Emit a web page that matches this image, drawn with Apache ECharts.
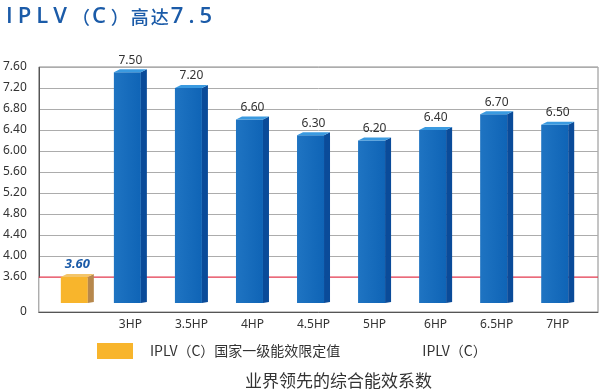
<!DOCTYPE html>
<html><head><meta charset="utf-8">
<script src="https://cdn.jsdelivr.net/npm/echarts@6/dist/echarts.min.js"></script>
<style>html,body{margin:0;padding:0;background:#fff}#c{width:600px;height:391px}</style>
</head><body><div id="c"></div>
<script>
const categories = ['', '3HP', '3.5HP', '4HP', '4.5HP', '5HP', '6HP', '6.5HP', '7HP'];
const standardValue = 3.6;
const iplvValues = [7.5, 7.2, 6.6, 6.3, 6.2, 6.4, 6.7, 6.5];
const standardName = 'IPLV（C）国家一级能效限定值';
const iplvName = 'IPLV（C）';
const titleText = 'IPLV（C）高达7.5';
const footText = '业界领先的综合能效系数';

const chart = echarts.init(document.getElementById('c'));
const font = 'Noto Sans, Noto Sans CJK SC, sans-serif';

// title split into spaced glyph tokens (letter-spaced heading)
const titleRich = titleText.split('').map(ch => (/[\u3000-\uffff]/.test(ch) ? '{c|' : '{l|') + ch + '}').join('');

function makeRender(front, side, topc, labelStyle, shiftX, withLine) {
  return function (params, api) {
    const x = api.value(0), v = api.value(1);
    const p = api.coord([x, v]);
    const b = api.coord([x, 0]);
    const fw = 27, sw = 6, d = 3;
    const left = p[0] - (fw + sw) / 2 + shiftX;
    const yT = p[1], yB = b[1] - 9;
    const children = [];
    if (withLine) {
      const cs = params.coordSys;
      children.push({ type: 'rect', shape: { x: cs.x, y: Math.round(yT) - 0.5, width: cs.width, height: 1.2 }, style: { fill: '#e3394e' } });
    }
    children.push(
      { type: 'rect', shape: { x: left, y: yT, width: fw, height: yB - yT }, style: { fill: front } },
      { type: 'polygon', shape: { points: [[left + fw, yT], [left + fw + sw, yT - d], [left + fw + sw, yB - 1], [left + fw, yB]] }, style: { fill: side } },
      { type: 'polygon', shape: { points: [[left, yT], [left + fw, yT], [left + fw + sw, yT - d], [left + sw, yT - d]] }, style: { fill: topc } },
      { type: 'text', style: Object.assign({ text: v.toFixed(2), x: left + (fw + sw) / 2, y: yT - 6, align: 'center', verticalAlign: 'bottom' }, labelStyle) }
    );
    return { type: 'group', children };
  };
}

const blueFront = new echarts.graphic.LinearGradient(0, 0, 1, 0, [
  { offset: 0, color: '#1f74c2' }, { offset: 1, color: '#0f64b6' }]);

chart.setOption({
  animation: false,
  title: [
    { text: titleRich, left: 1, top: 1,
      textStyle: { rich: {
        l: { fontFamily: 'Open Sans', fontSize: 22, fontWeight: 600, color: '#1b5ba8', padding: [0, 5, 0, 0] },
        c: { fontFamily: 'Noto Sans CJK SC', fontSize: 18, fontWeight: 500, color: '#1b5ba8', padding: [0, 2, 0, 0] }
      } } },
    { text: footText, left: 240, top: 367, textStyle: { fontFamily: 'Noto Sans CJK SC', fontSize: 17, fontWeight: 'normal', color: '#333' } }
  ],
  legend: {
    left: 97, top: 343, padding: 0, itemWidth: 36, itemHeight: 16, itemGap: 29,
    textStyle: { fontFamily: 'Noto Sans CJK SC', fontSize: 14, color: '#333', padding: [0, 0, 0, 12] },
    data: [
      { name: standardName, icon: 'rect', itemStyle: { color: '#f8b52c' } },
      { name: iplvName, icon: 'rect', itemStyle: { color: 'rgba(0,0,0,0)' } }
    ]
  },
  grid: { left: 35, right: 2, top: 67, bottom: 79, show: true, borderColor: '#8a8a8a', borderWidth: 1 },
  xAxis: {
    type: 'value', min: -0.5, max: 8.66,
    splitLine: { show: false },
    axisLine: { onZero: false, lineStyle: { color: '#555' } },
    axisTick: { show: false },
    axisLabel: {
      customValues: [1, 2, 3, 4, 5, 6, 7, 8],
      formatter: v => categories[Math.round(v)] || '',
      fontFamily: font, fontSize: 12, color: '#333', margin: 7
    }
  },
  yAxis: {
    type: 'value', min: 0, max: 7.6, interval: 0.4,
    breaks: [{ start: 0, end: 3.6, gap: '14.3%' }],
    breakArea: { show: false },
    axisLine: { show: true, onZero: false, lineStyle: { color: '#555' } },
    axisTick: { show: false },
    splitLine: { lineStyle: { color: '#acacac' } },
    axisLabel: { fontFamily: font, fontSize: 12, color: '#333', margin: 12, formatter: v => v === 0 ? '0' : v.toFixed(2) }
  },
  series: [
    {
      name: standardName, type: 'custom', itemStyle: { color: '#f8b52c' },
      renderItem: makeRender('#f8b52c', '#b7884c', '#f3c56a', { fill: '#1b5ba8', fontSize: 13, fontWeight: 'bold', fontStyle: 'italic', fontFamily: font }, 8, true),
      data: [[0, standardValue]],
      z: 2
    },
    {
      name: iplvName, type: 'custom', itemStyle: { color: '#1569bb' },
      renderItem: makeRender(blueFront, '#0a4b99', '#3a9ae0', { fill: '#333', fontSize: 12, fontFamily: font }, 0, false),
      data: iplvValues.map((v, i) => [i + 1, v]),
      z: 3
    }
  ]
});
</script></body></html>
